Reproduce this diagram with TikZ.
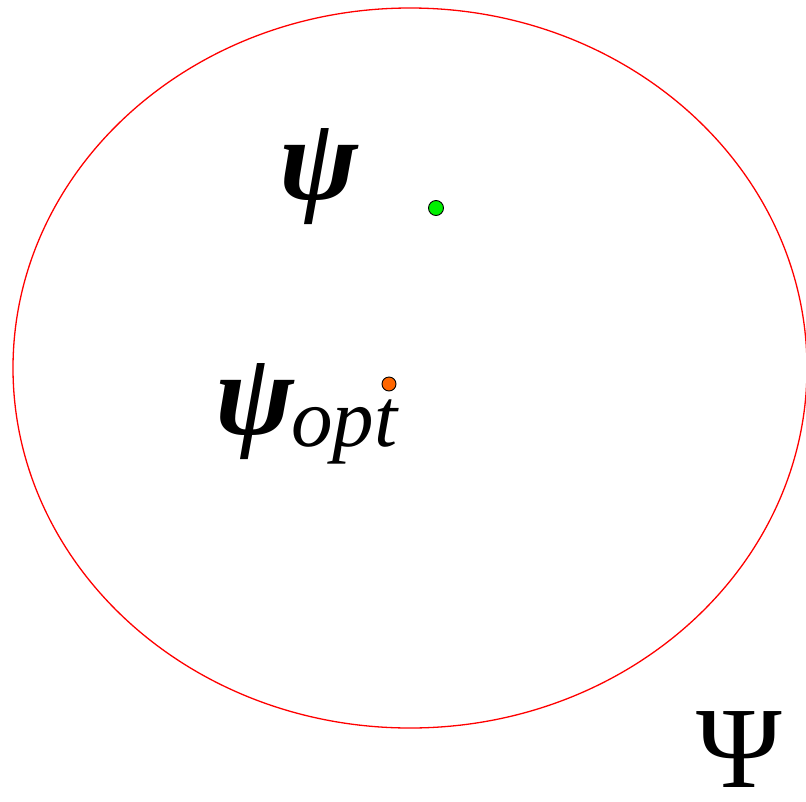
\documentclass[tikz,border=0pt]{standalone}
\usepackage{fontspec}
\setmainfont{Liberation Serif}
\definecolor{dotgreen}{RGB}{0,240,0}
\definecolor{dotorange}{RGB}{255,102,0}
\usetikzlibrary{positioning}
\begin{document}
\begin{tikzpicture}[x=1pt, y=-1pt,
  symb/.style={inner sep=0pt, anchor=base west, text depth=0pt},
  spot/.style={circle, draw=black, line width=0.9pt, inner sep=0pt, minimum size=15pt}]
\useasboundingbox (0,0) rectangle (806,801);

% feasible set
\draw[red, line width=1.3pt] (410,368) ellipse [x radius=397, y radius=360];

% current point
\node[symb, font=\fontsize{118}{118}\selectfont\bfseries\itshape] (psi) at (279,199) {ψ};
\node[spot, fill=dotgreen] (cur) at (436,208) {};

% optimum
\node[symb, font=\fontsize{118}{118}\selectfont\bfseries\itshape] (psiopt) at (215,434) {ψ};
\node[symb, font=\fontsize{83}{83}\selectfont\itshape] (sub) at (291,446) {opt};
\node[spot, fill=dotorange, minimum size=14pt] (opt) at (389,384) {};

% whole space
\node[symb, font=\fontsize{116}{116}\selectfont] (Psi) at (696,787) {Ψ};
\end{tikzpicture}
\end{document}
